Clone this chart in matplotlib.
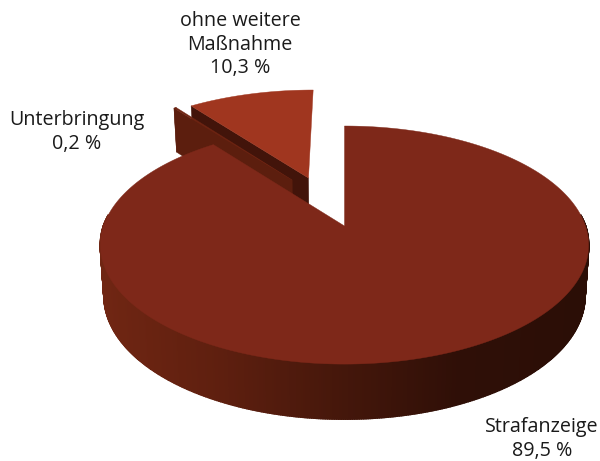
import numpy as np
import matplotlib
matplotlib.use("Agg")
import matplotlib.pyplot as plt
from matplotlib.colors import LinearSegmentedColormap

labels = ["Strafanzeige", "Unterbringung", "ohne weitere\nMaßnahme"]
values = [89.5, 0.2, 10.3]
value_labels = ["89,5 %", "0,2 %", "10,3 %"]

colors = ["#7e2819", "#6e2412", "#a0361f"]
face_colors = [None, "#5c1e0e", "#42140a"]
explode = [(0.0, 0.0), (-0.232, 0.423), (-0.16, 0.443)]
label_pos = [(542, 427), (77, 120), (240, 21)]

CX, CY, BX, AY, K = 344.5, 226.0, 241.0, 116.0, 0.16
wall_cmap = LinearSegmentedColormap.from_list(
    "wall", ["#702613", "#5e1f0f", "#45170b", "#2f0f07", "#2b0e06"])


def project(u, v, bottom=False):
    den = 1 + K * v
    x = (BX * u) / den
    y = CY - AY * v / den
    if bottom:
        return CX + x * 0.985, y + 50 - 5 * v
    return CX + x, y


def disc(theta, r, off):
    return r * np.sin(theta) + off[0], r * np.cos(theta) + off[1]


fig = plt.figure(figsize=(6, 4.61), dpi=100)
ax = fig.add_axes([0, 0, 1, 1])
ax.set_xlim(0, 600)
ax.set_ylim(461, 0)
ax.axis("off")

sweeps = np.radians(np.array(values) / sum(values) * 360)
starts = np.concatenate([[0], np.cumsum(sweeps)[:-1]])
slices = [(starts[i], starts[i] + sweeps[i], explode[i], i) for i in range(len(values))]


def draw_slice(a0, a1, off, i, z):
    # radial wall on the leading edge of the exploded slices
    if face_colors[i]:
        u0, v0 = disc(a0, 1, off)
        u1, v1 = disc(0, 0, off)
        p = [project(u0, v0), project(u1, v1),
             project(u1, v1, True), project(u0, v0, True)]
        ax.fill(*zip(*p), color=face_colors[i], lw=0.3, zorder=z)
    # outer wall: only the part of the rim that faces the viewer
    if i == 0:
        th = np.linspace(a0, a1, 700)
        th = th[np.cos(th) < 0.1]
        order = np.argsort(np.sin(th))
        th = th[order][::-1]
        segs = list(zip(th[:-1], th[1:]))
        for t0, t1 in segs:
            u0, v0 = disc(t0, 1, off)
            u1, v1 = disc(t1, 1, off)
            p = [project(u0, v0), project(u1, v1),
                 project(u1, v1, True), project(u0, v0, True)]
            xm = (p[0][0] + p[1][0]) / 2
            col = wall_cmap(np.clip((xm - 100) / 480, 0, 1))
            ax.fill(*zip(*p), facecolor=col, edgecolor=col, lw=1.2, zorder=z + 0.1)
    elif i == 1:
        u0, v0 = disc(a0, 1, off)
        u1, v1 = disc(a1, 1, off)
        p = [project(u0, v0), project(u1, v1),
             project(u1, v1, True), project(u0, v0, True)]
        ax.fill(*zip(*p), color=face_colors[i], lw=0.3, zorder=z + 0.1)
    # top surface
    th = np.linspace(a0, a1, 300)
    u, v = disc(th, 1, off)
    x, y = project(u, v)
    ax0, ay0 = project(*disc(0, 0, off))
    ax.fill(np.r_[ax0, x], np.r_[ay0, y], color=colors[i], lw=0.3, zorder=z + 0.2)


draw_slice(*slices[2], 1)
draw_slice(*slices[1], 2)
draw_slice(*slices[0], 3)

for lab, val, (lx, ly) in zip(labels, value_labels, label_pos):
    for j, line in enumerate((lab + "\n" + val).split("\n")):
        ax.text(lx, ly + j * 23.5, line, ha="center", va="center",
                fontsize=14.2, color="#1a1a1a", family="Open Sans")

fig.savefig("out.png", dpi=100, facecolor="white")
